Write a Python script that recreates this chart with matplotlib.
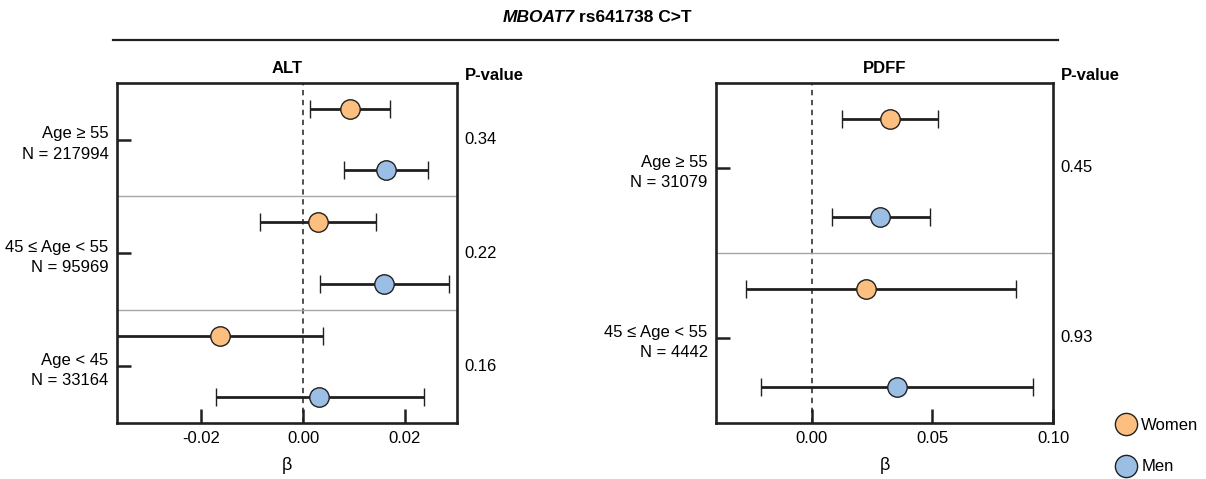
import matplotlib
matplotlib.use("Agg")
import matplotlib.pyplot as plt
import numpy as np
from matplotlib.lines import Line2D

plt.rcParams["font.family"] = ["Liberation Sans", "DejaVu Sans"]
plt.rcParams["font.size"] = 12

# ALT panel (3 age groups, top to bottom)
alt_groups = ["Age \u2265 55\nN = 217994", "45 \u2264 Age < 55\nN = 95969", "Age < 45\nN = 33164"]
alt_women_beta = [0.0092, 0.0029, -0.0163]
alt_women_lo = [0.0014, -0.0084, -0.0400]
alt_women_hi = [0.0171, 0.0143, 0.0039]
alt_men_beta = [0.0163, 0.0159, 0.0031]
alt_men_lo = [0.0080, 0.0033, -0.0171]
alt_men_hi = [0.0245, 0.0286, 0.0237]
alt_pvalues = ["0.34", "0.22", "0.16"]

# PDFF panel (2 age groups)
pdff_groups = ["Age \u2265 55\nN = 31079", "45 \u2264 Age < 55\nN = 4442"]
pdff_women_beta = [0.0324, 0.0224]
pdff_women_lo = [0.0124, -0.0274]
pdff_women_hi = [0.0523, 0.0846]
pdff_men_beta = [0.0282, 0.0353]
pdff_men_lo = [0.0083, -0.0212]
pdff_men_hi = [0.0490, 0.0917]
pdff_pvalues = ["0.45", "0.93"]

women_color = "#FDBF80"
men_color = "#9BBFE4"
ink = "#231F20"


def forest_panel(axis, title, groups, wb, wl, wh, mb, ml, mh, pvalues, xlim, xticks, offset):
    n = len(groups)
    centers = np.arange(n)[::-1] + 0.5
    for beta, lo, hi, sign, color in [
        (wb, wl, wh, 1, women_color),
        (mb, ml, mh, -1, men_color),
    ]:
        beta = np.asarray(beta)
        err = [beta - np.asarray(lo), np.asarray(hi) - beta]
        axis.errorbar(beta, centers + sign * offset, xerr=err, fmt="o", color=ink,
                      ecolor=ink, elinewidth=2.0, capsize=6.5, capthick=2.0,
                      markersize=14, markerfacecolor=color, markeredgecolor=ink,
                      markeredgewidth=1.0, zorder=3)
    axis.axvline(0, color=ink, linestyle=(0, (3.5, 3)), linewidth=1.1, zorder=1)
    for sep in range(1, n):
        axis.axhline(sep, color="#A6A6A6", linewidth=1.0, zorder=1)
    axis.set_xlim(*xlim)
    axis.set_ylim(0, n)
    axis.set_xticks(xticks)
    axis.set_xticklabels([f"{t:.2f}" for t in xticks])
    axis.set_yticks(centers)
    axis.set_yticklabels(groups, ha="right", linespacing=1.45)
    axis.tick_params(axis="both", direction="in", length=10, width=1.8, color=ink,
                     labelsize=12)
    axis.tick_params(axis="x", pad=6)
    axis.tick_params(axis="y", pad=6)
    for spine in axis.spines.values():
        spine.set_linewidth(1.9)
        spine.set_color(ink)
    axis.set_xlabel("\u03b2", fontsize=13, labelpad=8)
    axis.set_title(title, fontweight="bold", fontsize=12, pad=7)
    trans = axis.get_yaxis_transform()
    for c, p in zip(centers, pvalues):
        axis.text(1.022, c, p, transform=trans, ha="left", va="center", fontsize=12)
    axis.text(1.022, 1.0, "P-value", transform=axis.transAxes, ha="left",
              va="bottom", fontsize=12, fontweight="bold")


fig = plt.figure(figsize=(12.06, 4.79), dpi=100)
ax_alt = fig.add_axes([117 / 1206, 1 - 423 / 479, 340 / 1206, 340 / 479])
ax_pdff = fig.add_axes([716 / 1206, 1 - 423 / 479, 337 / 1206, 340 / 479])

forest_panel(ax_alt, "ALT", alt_groups, alt_women_beta, alt_women_lo, alt_women_hi,
             alt_men_beta, alt_men_lo, alt_men_hi, alt_pvalues,
             (-0.0365, 0.0302), [-0.02, 0.0, 0.02], 0.27)
forest_panel(ax_pdff, "PDFF", pdff_groups, pdff_women_beta, pdff_women_lo, pdff_women_hi,
             pdff_men_beta, pdff_men_lo, pdff_men_hi, pdff_pvalues,
             (-0.0398, 0.10), [0.0, 0.05, 0.10], 0.29)

# super title with rule underneath
fig.text(575 / 1206, 1 - 17 / 479, "MBOAT7", ha="right", va="center",
         fontweight="bold", fontstyle="italic", fontsize=12.5)
fig.text(579 / 1206, 1 - 17 / 479, "rs641738 C>T", ha="left", va="center",
         fontweight="bold", fontsize=12.5)
fig.add_artist(Line2D([113 / 1206, 1058 / 1206], [1 - 40 / 479, 1 - 40 / 479],
                      transform=fig.transFigure, color=ink, linewidth=1.6))

handles = [
    Line2D([], [], linestyle="none", marker="o", markersize=16,
           markerfacecolor=women_color, markeredgecolor=ink, markeredgewidth=1.0),
    Line2D([], [], linestyle="none", marker="o", markersize=16,
           markerfacecolor=men_color, markeredgecolor=ink, markeredgewidth=1.0),
]
fig.legend(handles, ["Women", "Men"], loc="center left",
           bbox_to_anchor=(1108 / 1206, 1 - 446 / 479), frameon=False,
           labelspacing=1.6, handletextpad=0.3, handlelength=1.2, fontsize=12,
           borderpad=0)

fig.savefig("out.png", dpi=100)
